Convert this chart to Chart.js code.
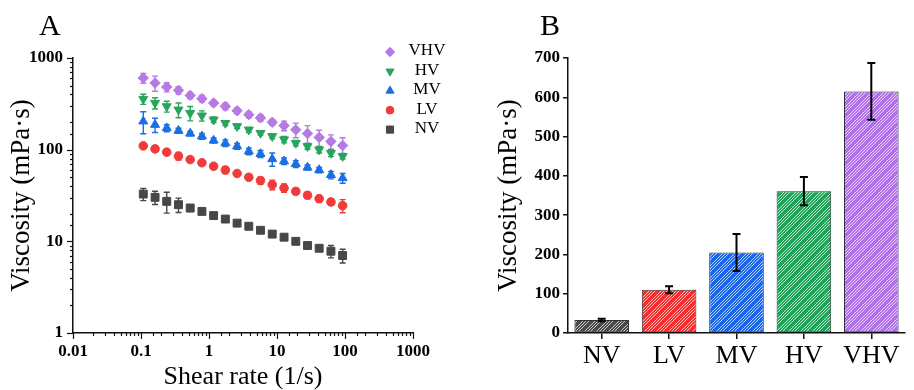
<!DOCTYPE html>
<html lang="en">
<head>
<meta charset="UTF-8">
<title>Viscosity vs shear rate</title>
<script src="https://cdn.jsdelivr.net/npm/chart.js"></script>
<style>
    body { margin: 0; background: #fff; }
    #wrap { position: relative; width: 914px; height: 390px; overflow: hidden; }
    #chartA { position: absolute; left: 0; top: 0; }
    #chartB { position: absolute; left: 460px; top: 0; }
</style>
</head>
<body>
<div id="wrap">
    <canvas id="chartA" width="460" height="390"></canvas>
    <canvas id="chartB" width="454" height="390"></canvas>
</div>
<script>
const serif = '"Liberation Serif", "Times New Roman", serif';

// ---- panel A data ----
const shearRate = [0.108, 0.161, 0.239, 0.356, 0.529, 0.787, 1.17, 1.74, 2.59, 3.85, 5.72, 8.51, 12.7, 18.9, 28.1, 41.7, 62.1, 92.3];

const vhv    = [605, 534, 482, 444, 391, 360, 323, 297, 266, 241, 222, 199, 183, 165, 150, 136, 123, 111];
const vhvErr = [75, 100, 55, 40, 30, 30, 22, 25, 20, 18, 18, 15, 22, 30, 33, 27, 22, 24];
const hv     = [357, 323, 297, 273, 251, 235, 212, 195, 180, 165, 152, 140, 129, 118, 109, 100, 92, 85];
const hvErr  = [45, 45, 40, 50, 45, 30, 15, 12, 10, 10, 8, 8, 10, 8, 8, 8, 8, 6];
const mv     = [204, 187, 172, 161, 150, 140, 126, 118, 109, 96, 90, 79, 75, 70, 64, 60, 53, 49];
const mvErr  = [55, 33, 15, 10, 8, 10, 8, 10, 8, 8, 8, 13, 6, 6, 4, 4, 5, 6];
const lv     = [110, 102, 94, 85, 78, 72, 66, 60, 55, 50, 46, 41.5, 38.2, 35.1, 31.8, 29.2, 26.9, 24.5];
const lvErr  = [6, 4, 5, 8, 4, 3, 4, 5, 3, 3, 4, 5, 4, 2.5, 2.5, 2.5, 2, 4];
const nv     = [32.8, 30.2, 27.3, 25.1, 23.1, 21.2, 19.1, 17.5, 15.8, 14.6, 13.2, 12.0, 11.1, 10.0, 9.0, 8.4, 7.8, 7.0];
const nvErr  = [5, 5, 7, 4.5, 2, 1.5, 1.2, 1.2, 0.8, 0.7, 0.8, 0.7, 0.7, 0.6, 0.5, 0.5, 1.2, 1.2];

const xTickLabels = ['0.01', '0.1', '1', '10', '100', '1000'];
const yTickLabels = ['1', '10', '100', '1000'];

// ---- panel B data ----
const barLabels = ['NV', 'LV', 'MV', 'HV', 'VHV'];
const barMeans  = [33, 110, 205, 361, 615];
const barErr    = [3, 9, 47, 36, 72];

const colors = { VHV: '#b57ae4', HV: '#28a55c', MV: '#1b6fe2', LV: '#f23a3a', NV: '#474747' };
const barColors = ['#4a4a4a', '#f23030', '#1a66e6', '#22a35a', '#b070e8'];

function isPow10(v) {
    const l = Math.log10(v);
    return Math.abs(l - Math.round(l)) < 1e-6;
}

function series(label, values, errs, style, radius, rotation) {
    return {
        label: label,
        data: shearRate.map((x, i) => ({ x: x, y: values[i] })),
        errors: errs,
        backgroundColor: colors[label],
        borderColor: colors[label],
        borderWidth: 1,
        pointStyle: style,
        pointRadius: radius,
        pointRotation: rotation || 0
    };
}

// error bars for the scatter panel
const scatterErrors = {
    id: 'scatterErrors',
    beforeDatasetsDraw(chart) {
        const ctx = chart.ctx;
        const yScale = chart.scales.y;
        chart.data.datasets.forEach((ds, i) => {
            const meta = chart.getDatasetMeta(i);
            ctx.save();
            ctx.strokeStyle = ds.borderColor;
            ctx.lineWidth = 1.4;
            meta.data.forEach((pt, j) => {
                const v = ds.data[j].y, e = ds.errors[j];
                const top = yScale.getPixelForValue(v + e);
                const bot = yScale.getPixelForValue(Math.max(v - e, 0.001));
                ctx.beginPath();
                ctx.moveTo(pt.x, top); ctx.lineTo(pt.x, bot);
                ctx.moveTo(pt.x - 3, top); ctx.lineTo(pt.x + 3, top);
                ctx.moveTo(pt.x - 3, bot); ctx.lineTo(pt.x + 3, bot);
                ctx.stroke();
            });
            ctx.restore();
        });
    }
};

// major / minor tick marks on the log axes
const logTicks = {
    id: 'logTicks',
    afterDraw(chart) {
        const { ctx, chartArea, scales: { x, y } } = chart;
        ctx.save();
        ctx.strokeStyle = '#111';
        ctx.lineWidth = 1.2;
        x.ticks.forEach(t => {
            const px = Math.round(x.getPixelForValue(t.value)) + 0.5;
            const len = isPow10(t.value) ? 6 : 3;
            ctx.beginPath();
            ctx.moveTo(px, chartArea.bottom); ctx.lineTo(px, chartArea.bottom + len);
            ctx.stroke();
        });
        y.ticks.forEach(t => {
            const py = Math.round(y.getPixelForValue(t.value)) + 0.5;
            const len = isPow10(t.value) ? 6 : 3;
            ctx.beginPath();
            ctx.moveTo(chartArea.left, py); ctx.lineTo(chartArea.left - len, py);
            ctx.stroke();
        });
        ctx.restore();
    }
};

const seriesLegend = {
    id: 'seriesLegend',
    afterDraw(chart) {
        const ctx = chart.ctx;
        chart.data.datasets.forEach((ds, i) => {
            const yy = 52 + i * 19.4;
            ctx.save();
            ctx.fillStyle = ds.backgroundColor;
            ctx.strokeStyle = ds.borderColor;
            ctx.lineWidth = 1;
            Chart.helpers.drawPoint(ctx, {
                pointStyle: ds.pointStyle,
                radius: ds.pointRadius * 0.9,
                rotation: ds.pointRotation,
                borderWidth: 1
            }, 390, yy);
            ctx.fillStyle = '#000';
            ctx.font = '17px ' + serif;
            ctx.textAlign = 'center';
            ctx.textBaseline = 'middle';
            ctx.fillText(ds.label, 427, yy - 1);
            ctx.restore();
        });
    }
};

const panelLetter = {
    id: 'panelLetter',
    afterDraw(chart, args, opts) {
        const ctx = chart.ctx;
        ctx.save();
        ctx.font = '30px ' + serif;
        ctx.fillStyle = '#000';
        ctx.textBaseline = 'alphabetic';
        ctx.fillText(opts.text, opts.x, opts.y);
        ctx.restore();
    }
};

new Chart(document.getElementById('chartA'), {
    type: 'scatter',
    data: {
        datasets: [
            series('VHV', vhv, vhvErr, 'rectRot', 5.2),
            series('HV', hv, hvErr, 'triangle', 5.2, 180),
            series('MV', mv, mvErr, 'triangle', 5.2),
            series('LV', lv, lvErr, 'circle', 4.3),
            series('NV', nv, nvErr, 'rect', 5.6)
        ]
    },
    options: {
        responsive: false,
        animation: false,
        events: [],
        layout: { padding: { left: 0, right: 47, top: 58, bottom: 0 } },
        scales: {
            x: {
                type: 'logarithmic',
                min: 0.01,
                max: 1000,
                afterFit: s => { s.height = 57; },
                grid: { display: false, drawTicks: false },
                border: { display: true, color: '#111', width: 1.5 },
                ticks: {
                    autoSkip: false,
                    maxRotation: 0,
                    padding: 8,
                    color: '#000',
                    font: { family: serif, size: 17, weight: 'bold' },
                    callback: v => isPow10(v) ? xTickLabels[Math.round(Math.log10(v)) + 2] : ''
                },
                title: {
                    display: true,
                    text: 'Shear rate (1/s)',
                    color: '#000',
                    font: { family: serif, size: 26, lineHeight: 1 },
                    padding: { top: 0, bottom: 0 }
                }
            },
            y: {
                type: 'logarithmic',
                min: 1,
                max: 1000,
                afterFit: s => { s.width = 73; },
                grid: { display: false, drawTicks: false },
                border: { display: true, color: '#111', width: 1.5 },
                ticks: {
                    autoSkip: false,
                    padding: 10,
                    color: '#000',
                    font: { family: serif, size: 17, weight: 'bold' },
                    callback: v => isPow10(v) ? yTickLabels[Math.round(Math.log10(v))] : ''
                },
                title: {
                    display: true,
                    text: 'Viscosity (mPa·s)',
                    color: '#000',
                    font: { family: serif, size: 27 },
                    padding: { top: 6, bottom: 0 }
                }
            }
        },
        plugins: {
            legend: { display: false },
            tooltip: { enabled: false },
            panelLetter: { text: 'A', x: 39, y: 35 }
        }
    },
    plugins: [scatterErrors, logTicks, seriesLegend, panelLetter]
});

// ---- panel B ----
function hatch(color) {
    const c = document.createElement('canvas');
    c.width = 12; c.height = 12;
    const g = c.getContext('2d');
    g.fillStyle = color;
    g.fillRect(0, 0, 12, 12);
    g.strokeStyle = 'rgba(255,255,255,0.7)';
    g.lineWidth = 1;
    for (let k = -12; k < 24; k += 3) {
        if (((k % 12) + 12) % 12 === 9) continue;
        g.beginPath();
        g.moveTo(k, 12);
        g.lineTo(k + 12, 0);
        g.stroke();
    }
    return g.createPattern(c, 'repeat');
}

const barErrors = {
    id: 'barErrors',
    afterDatasetsDraw(chart) {
        const ctx = chart.ctx;
        const yScale = chart.scales.y;
        const meta = chart.getDatasetMeta(0);
        ctx.save();
        ctx.strokeStyle = '#000';
        ctx.lineWidth = 2;
        meta.data.forEach((bar, i) => {
            const top = yScale.getPixelForValue(barMeans[i] + barErr[i]);
            const bot = yScale.getPixelForValue(barMeans[i] - barErr[i]);
            ctx.beginPath();
            ctx.moveTo(bar.x, top); ctx.lineTo(bar.x, bot);
            ctx.moveTo(bar.x - 4, top); ctx.lineTo(bar.x + 4, top);
            ctx.moveTo(bar.x - 4, bot); ctx.lineTo(bar.x + 4, bot);
            ctx.stroke();
        });
        ctx.restore();
    }
};

new Chart(document.getElementById('chartB'), {
    type: 'bar',
    data: {
        labels: barLabels,
        datasets: [{
            data: barMeans,
            backgroundColor: barColors.map(hatch),
            borderColor: '#333',
            borderWidth: 1,
            borderSkipped: false,
            barPercentage: 0.81,
            categoryPercentage: 1
        }]
    },
    options: {
        responsive: false,
        animation: false,
        events: [],
        layout: { padding: { left: 0, right: 9, top: 58, bottom: 0 } },
        scales: {
            x: {
                afterFit: s => { s.height = 57; },
                grid: { display: true, drawOnChartArea: false, offset: false, tickLength: 6, color: '#111', lineWidth: 1.5 },
                border: { display: true, color: '#111', width: 1.5 },
                ticks: {
                    padding: 4,
                    color: '#000',
                    font: { family: serif, size: 26, lineHeight: 1 }
                }
            },
            y: {
                min: 0,
                max: 700,
                afterFit: s => { s.width = 108; },
                grid: { display: true, drawOnChartArea: false, tickLength: 5, color: '#111', lineWidth: 1.5 },
                border: { display: true, color: '#111', width: 1.5 },
                ticks: {
                    stepSize: 100,
                    padding: 3,
                    color: '#000',
                    font: { family: serif, size: 17, weight: 'bold' }
                },
                title: {
                    display: true,
                    text: 'Viscosity (mPa·s)',
                    color: '#000',
                    font: { family: serif, size: 27 },
                    padding: { top: 33, bottom: 0 }
                }
            }
        },
        plugins: {
            legend: { display: false },
            tooltip: { enabled: false },
            panelLetter: { text: 'B', x: 80, y: 35 }
        }
    },
    plugins: [barErrors, panelLetter]
});
</script>
</body>
</html>
